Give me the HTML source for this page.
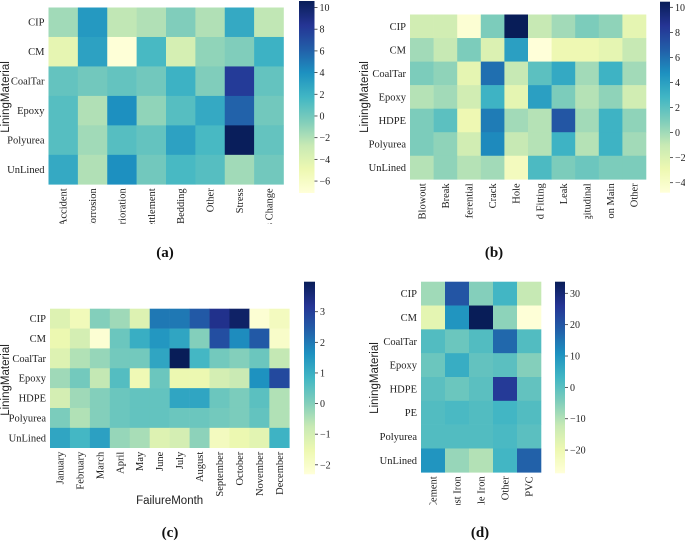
<!DOCTYPE html>
<html><head><meta charset="utf-8"><style>
html,body{margin:0;padding:0;background:#fff;}
svg{display:block;}
.tk{font-family:"Liberation Serif",serif;font-size:10.5px;fill:#222;}
.ct{font-family:"Liberation Serif",serif;font-size:10px;fill:#222;}
.al{font-family:"Liberation Sans",sans-serif;font-size:11.5px;fill:#222;}
.pl{font-family:"Liberation Serif",serif;font-size:15px;font-weight:bold;fill:#111;}
</style></head><body>
<svg id="fig" width="685" height="542" viewBox="0 0 685 542" xmlns="http://www.w3.org/2000/svg"></svg>
<script>
// ---- Panel (a) data ----
const aRows = ["CIP","CM","CoalTar","Epoxy","Polyurea","UnLined"];
const aCols = ["Accident","Corrosion","Deterioration","Settlement","Bedding","Other","Stress","Temps Change"];
const aVals = [
 [-1.5, 3.5,-2.5,-2, -0.5,-2,  2.5,-2.5],
 [-4.5, 3,  -7,   1.5,-3.5,-1, -0.5, 2],
 [ 0.5, 0,   0.5, 0,   2, -0.5, 8,   0.5],
 [ 1,  -2,   4,  -1,   1,  2.5, 6,   0],
 [ 1, -1.5,  1,   0.5, 3,  1.5,10.5, 0.5],
 [ 2.5,-2,   4,   0,   1.5, 1, -1.5, 0]
];
const aTicks = [-6,-4,-2,0,2,4,6,8,10];
// ---- Panel (b) data ----
const bRows = ["CIP","CM","CoalTar","Epoxy","HDPE","Polyurea","UnLined"];
const bCols = ["Blowout","Break","Circumferential","Crack","Hole","Joint and Fitting","Leak","Longitudinal","Spot on Main","Other"];
const bVals = [
 [-1.5,-1.5,-4.5, 1,  10.5,-1,  0,  1,  0.5,-2.5],
 [ 0,  -1,   1,  -2,   4, -4.8,-3, -3, -2.5,-1],
 [ 1,   0.5,-2.5, 6,  -1,  2,  3.5, 0,  3,   0],
 [-0.5, 0, -1.5, 3,  -2.5, 4,  1, -0.5, 0.5,-1.5],
 [ 1,   2, -3,  5.5,  0, -0.5, 7,  0,  3,   0.5],
 [ 1,  0.5,-1.5, 5,  -1, -0.5, 3, -0.5, 3,   0],
 [-0.5,0.5,-0.5, 0,  -3.5, 2.5, 1, 1.5, 1,   1]
];
const bTicks = [-4,-2,0,2,4,6,8,10];
// ---- Panel (c) data ----
const cRows = ["CIP","CM","CoalTar","Epoxy","HDPE","Polyurea","UnLined"];
const cCols = ["January","February","March","April","May","June","July","August","September","October","November","December"];
const cVals = [
 [-1.2,-1.7, 0,  -0.3,-1.2, 2,   2,   2.5, 3.3, 3.8,-2.2,-1.8],
 [-1.5,-1,  -2.2, 0.3, 1,   1.5, 1.2, 0,   2.7, 1.7, 2.5,-2],
 [-1.2,-0.5,-0.2, 0.2, 0.2, 1.2, 4,   0.8, 0.2, 0,   0.3,-0.7],
 [-0.3, 0.2,-0.7, 0.6,-1.6, 0.3,-1.5,-1.5,-1,  -0.8, 1.6, 2.8],
 [-1,  -0.3, 0,   0.3, 0.4, 0.4, 1.2, 1.2, 0.3, 0.1, 0.5,-0.5],
 [ 0.1,-0.5, 0,   0.3, 0.4, 0.4, 0.3, 0.3, 0.2, 0.1, 0.4,-0.5],
 [ 1.2, 0.8, 1.3,-0.2,-0.4,-1.2,-1,  -0.1,-1.8,-1.5,-1.3, 0.9]
];
const cTicks = [-2,-1,0,1,2,3];
// ---- Panel (d) data ----
const dRows = ["CIP","CM","CoalTar","Epoxy","HDPE","PE","Polyurea","UnLined"];
const dCols = ["Asbestos Cement","Cast Iron","Ductile Iron","Other","PVC"];
const dVals = [
 [-8, 20, -5,  3, -12],
 [-18,10, 33.7,-6,-27],
 [ 1, -2,  1, 17,  1],
 [-2,  5, -1,  0, -5],
 [ 0, -2,  0, 25, -1],
 [ 1,  2,  1,  3,  1],
 [ 1,  1,  1,  2,  0],
 [10, -7,-10,  3, 18]
];
const dTicks = [-20,-10,0,10,20,30];

const NS="http://www.w3.org/2000/svg";
const svg=document.getElementById('fig');
const stops=["#ffffd9","#edf8b1","#c7e9b4","#7fcdbb","#41b6c4","#1d91c0","#225ea8","#253494","#081d58"];
function hex(h){return [1,3,5].map(i=>parseInt(h.substr(i,2),16));}
function cmap(t){t=Math.max(0,Math.min(1,t));const p=t*(stops.length-1);const i=Math.min(stops.length-2,Math.floor(p));const f=p-i;const a=hex(stops[i]),b=hex(stops[i+1]);return "rgb("+a.map((v,k)=>Math.round(v+(b[k]-v)*f)).join(",")+")";}
function mk(tag,attrs,parent){const e=document.createElementNS(NS,tag);for(const k in attrs)e.setAttribute(k,attrs[k]);(parent||svg).appendChild(e);return e;}

function heat(id,cfg){
  const g=mk('g',{});
  
  
  const nr=cfg.rows.length,nc=cfg.cols.length;
  const cw=(cfg.x1-cfg.x0)/nc,ch=(cfg.y1-cfg.y0)/nr;
  const xs=c=>cfg.x0+c*cw, ys=r=>cfg.y0+r*ch;
  const cs=v=>(v-cfg.vmin)/(cfg.vmax-cfg.vmin);
  cfg.vals.forEach((row,r)=>row.forEach((v,c)=>{
    const rc=mk('rect',{x:xs(c),y:ys(r),width:cw+0.3,height:ch+0.3,fill:cmap(cs(v))},g);
    
    
  }));
  cfg.rows.forEach((n,r)=>{
    const t=mk('text',{x:cfg.x0-4,y:ys(r)+ch/2+3.5,'text-anchor':'end',class:'tk'},g);t.textContent=n;
    
    
  });
  const clip=mk('clipPath',{id:id+'clip'},g);
  mk('rect',{x:cfg.x0-20,y:cfg.y1,width:cfg.x1-cfg.x0+40,height:cfg.clipY-cfg.y1},clip);
  const lg=mk('g',{'clip-path':'url(#'+id+'clip)'},g);
  cfg.cols.forEach((n,c)=>{
    const x=xs(c)+cw/2+3.5,y=cfg.y1+4;
    const t=mk('text',{x:x,y:y,'text-anchor':'end',transform:'rotate(-90 '+x+' '+y+')',class:'tk'},lg);t.textContent=n;
    
    
  });
  const gr=mk('linearGradient',{id:id+'grad',x1:0,y1:1,x2:0,y2:0},g);
  for(let i=0;i<=16;i++)mk('stop',{offset:i/16,'stop-color':cmap(i/16)},gr);
  const cb=mk('rect',{x:cfg.cbx,y:cfg.cby0,width:cfg.cbw,height:cfg.cby1-cfg.cby0,fill:'url(#'+id+'grad)'},g);
  
  
  const cy=v=>cfg.cby1-(v-cfg.vmin)/(cfg.vmax-cfg.vmin)*(cfg.cby1-cfg.cby0);
  cfg.ticks.forEach(v=>{
    const y=cy(v);
    mk('line',{x1:cfg.cbx+cfg.cbw,x2:cfg.cbx+cfg.cbw+3,y1:y,y2:y,stroke:'#333','stroke-width':0.8},g);
    const t=mk('text',{x:cfg.cbx+cfg.cbw+5,y:y+3.5,class:'ct'},g);t.textContent=(v<0?'\u2212'+(-v):String(v));
    
    
  });
  const yl=mk('text',{x:cfg.ylx,y:cfg.yly,'text-anchor':'middle',transform:'rotate(-90 '+cfg.ylx+' '+cfg.yly+')',class:'al'},g);yl.textContent='LiningMaterial';
  
  
  if(cfg.xlabel){const xl=mk('text',{x:(cfg.x0+cfg.x1)/2,y:cfg.xly,'text-anchor':'middle',class:'al'},g);xl.textContent=cfg.xlabel;
    
    }
  const pl=mk('text',{x:cfg.plx,y:cfg.ply,'text-anchor':'middle',class:'pl'},g);pl.textContent=cfg.label;
  
  
}
heat('a',{rows:aRows,cols:aCols,vals:aVals,ticks:aTicks,x0:48.5,x1:283.5,y0:7.5,y1:184.3,vmin:-7.1,vmax:10.6,
  cbx:299,cbw:15.5,cby0:1,cby1:193,clipY:224,ylx:9,yly:97,plx:165,ply:257,label:'(a)'});
heat('b',{rows:bRows,cols:bCols,vals:bVals,ticks:bTicks,x0:410,x1:646,y0:14.5,y1:179.3,vmin:-4.8,vmax:10.45,
  cbx:660,cbw:10,cby0:1.7,cby1:192.7,clipY:219,ylx:368,yly:97,plx:494,ply:257,label:'(b)'});
heat('c',{rows:cRows,cols:cCols,vals:cVals,ticks:cTicks,x0:50,x1:289.3,y0:308.7,y1:447.7,vmin:-2.31,vmax:3.98,
  cbx:304,cbw:11,cby0:281.7,cby1:474.3,clipY:520,ylx:9,yly:380,xlabel:'FailureMonth',xly:504,plx:170,ply:537,label:'(c)'});
heat('d',{rows:dRows,cols:dCols,vals:dVals,ticks:dTicks,x0:421,x1:541,y0:281.7,y1:472.3,vmin:-27.4,vmax:33.7,
  cbx:555,cbw:10,cby0:281.7,cby1:473.3,clipY:505,ylx:378,yly:378,plx:480,ply:537,label:'(d)'});
</script>
</body></html>
